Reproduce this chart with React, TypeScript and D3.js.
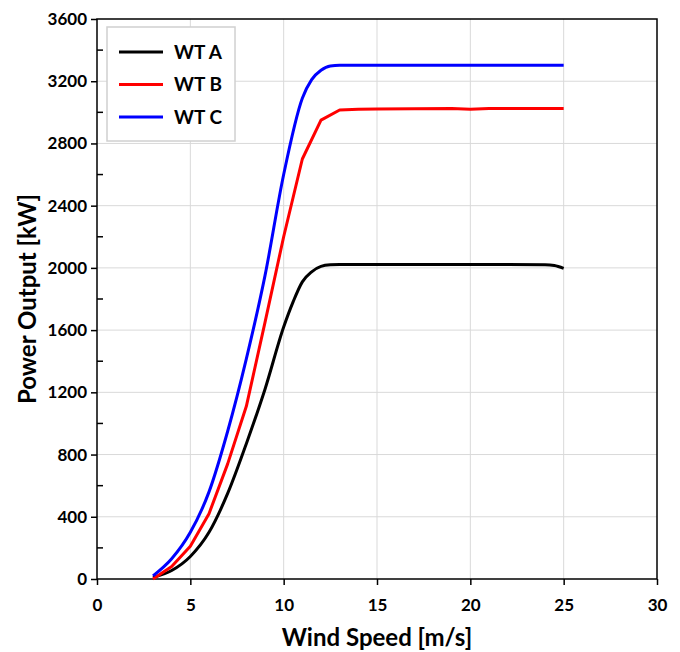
import React, { useEffect, useRef } from "react";
import * as d3 from "d3";

// wind speeds (m/s) and power output (kW)
const speedA = [3, 4, 5, 6, 7, 8, 9, 10, 10.5, 11, 11.5, 12, 12.5, 13, 15, 18, 20, 22, 24, 24.5, 25];
const powerA = [10, 55, 145, 300, 550, 870, 1220, 1620, 1780, 1910, 1975, 2010, 2020, 2022, 2022, 2022, 2022, 2022, 2020, 2015, 1997];

const speedB = [3, 4, 5, 6, 7, 8, 9, 10, 11, 12, 13, 14, 15, 17, 19, 20, 21, 23, 25];
const powerB = [0, 80, 210, 420, 740, 1110, 1650, 2200, 2700, 2950, 3015, 3020, 3022, 3023, 3025, 3020, 3025, 3025, 3025];

const speedC = [3, 4, 5, 6, 7, 8, 9, 10, 11, 11.5, 12, 12.5, 13, 15, 20, 25];
const powerC = [20, 130, 300, 560, 950, 1415, 1950, 2600, 3090, 3210, 3270, 3298, 3302, 3302, 3302, 3302];

const seriesNames = ["WT A", "WT B", "WT C"];
const seriesColors = ["#000000", "#ff0000", "#0000ff"];

const xTicks = [0, 5, 10, 15, 20, 25, 30];
const yTicks = [0, 400, 800, 1200, 1600, 2000, 2400, 2800, 3200, 3600];
const yMinorTicks = [200, 600, 1000, 1400, 1800, 2200, 2600, 3000, 3400];

const W = 680;
const H = 652;
const margin = { top: 19, right: 23, bottom: 73, left: 97 };
const font = "Lato, 'Open Sans', sans-serif";

export default function App() {
  const ref = useRef<SVGSVGElement>(null);

  useEffect(() => {
    document.body.style.margin = "0";
    const svg = d3.select(ref.current);
    svg.selectAll("*").remove();

    const iw = W - margin.left - margin.right;
    const ih = H - margin.top - margin.bottom;
    const x = d3.scaleLinear().domain([0, 30]).range([0, iw]);
    const y = d3.scaleLinear().domain([0, 3600]).range([ih, 0]);

    const g = svg.append("g").attr("transform", `translate(${margin.left},${margin.top})`);

    // grid
    g.selectAll(".vg").data(xTicks.slice(1, -1)).enter().append("line")
      .attr("x1", d => x(d)).attr("x2", d => x(d)).attr("y1", 0).attr("y2", ih)
      .attr("stroke", "#d9d9d9").attr("stroke-width", 1);
    g.selectAll(".hg").data(yTicks.slice(1, -1)).enter().append("line")
      .attr("x1", 0).attr("x2", iw).attr("y1", d => y(d)).attr("y2", d => y(d))
      .attr("stroke", "#d9d9d9").attr("stroke-width", 1);

    // axes
    const xAxis = g.append("g").attr("transform", `translate(0,${ih})`)
      .call(d3.axisBottom(x).tickValues(xTicks).tickSize(6).tickPadding(14).tickFormat(d3.format("d")));
    const yAxis = g.append("g")
      .call(d3.axisLeft(y).tickValues(yTicks).tickSize(6).tickPadding(4).tickFormat(d3.format("d")));
    [xAxis, yAxis].forEach(a => {
      a.select(".domain").remove();
      a.selectAll("line").attr("stroke", "#000").attr("stroke-width", 1.5);
      a.selectAll("text").attr("font-family", font).attr("font-weight", "bold")
        .attr("font-size", 17).attr("fill", "#000");
    });

    g.selectAll(".ym").data(yMinorTicks).enter().append("line")
      .attr("x1", 0).attr("x2", 6).attr("y1", d => y(d)).attr("y2", d => y(d))
      .attr("stroke", "#000").attr("stroke-width", 1.5);

    // frame
    g.append("rect").attr("width", iw).attr("height", ih)
      .attr("fill", "none").attr("stroke", "#000").attr("stroke-width", 1.5);

    // lines (WT B is drawn as a polyline, the others smoothed)
    const data = [
      { xs: speedA, ys: powerA, curve: d3.curveMonotoneX },
      { xs: speedB, ys: powerB, curve: d3.curveLinear },
      { xs: speedC, ys: powerC, curve: d3.curveMonotoneX },
    ];
    data.forEach((s, i) => {
      const pts: [number, number][] = s.xs.map((v, j) => [v, s.ys[j]]);
      const line = d3.line<[number, number]>()
        .x(d => x(d[0])).y(d => y(d[1])).curve(s.curve);
      g.append("path").attr("d", line(pts)).attr("fill", "none")
        .attr("stroke", seriesColors[i]).attr("stroke-width", 3)
        .attr("stroke-linejoin", "round");
    });

    // legend
    const lg = svg.append("g").attr("transform", "translate(107,27)");
    lg.append("rect").attr("width", 128).attr("height", 114)
      .attr("fill", "#fff").attr("stroke", "#d0d0d0").attr("stroke-width", 1.5);
    seriesNames.forEach((name, i) => {
      const cy = 25 + i * 32.5;
      lg.append("line").attr("x1", 12).attr("x2", 56).attr("y1", cy).attr("y2", cy)
        .attr("stroke", seriesColors[i]).attr("stroke-width", 3);
      lg.append("text").attr("x", 67).attr("y", cy).attr("dy", "0.35em")
        .attr("font-family", font).attr("font-weight", "bold").attr("font-size", 19)
        .text(name);
    });

    // titles
    svg.append("text").attr("x", margin.left + iw / 2).attr("y", 646)
      .attr("text-anchor", "middle").attr("font-family", font).attr("font-weight", "bold")
      .attr("font-size", 24).text("Wind Speed [m/s]");
    svg.append("text").attr("transform", `translate(36,${margin.top + ih / 2}) rotate(-90)`)
      .attr("text-anchor", "middle").attr("font-family", font).attr("font-weight", "bold")
      .attr("font-size", 24).text("Power Output [kW]");
  }, []);

  return <svg ref={ref} width={W} height={H} style={{ display: "block", background: "#fff" }} />;
}
